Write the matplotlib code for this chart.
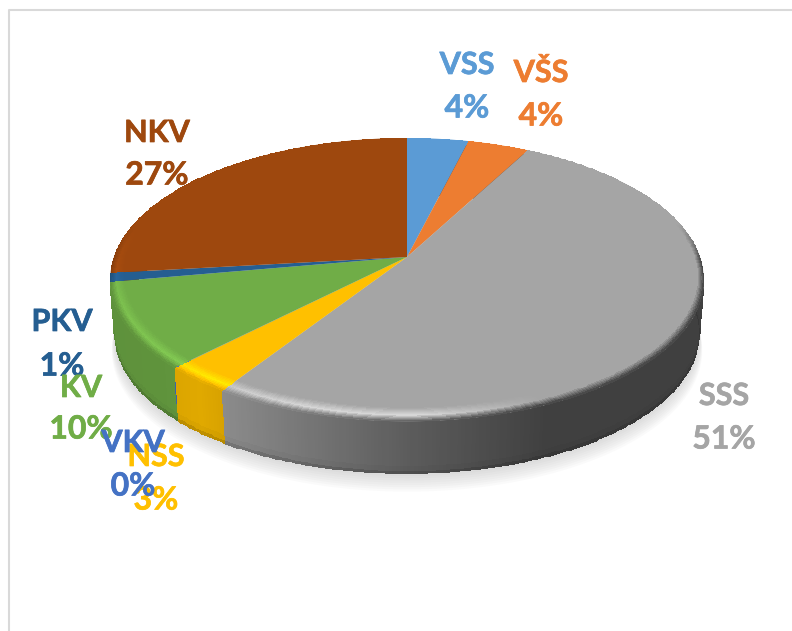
import numpy as np
import matplotlib
matplotlib.use('Agg')
import matplotlib.pyplot as plt
import matplotlib.patheffects as pe

# pie data, clockwise from 12 o'clock
categories = ['VSS', 'VŠS', 'SSS', 'NSS', 'VKV', 'KV', 'PKV', 'NKV']
values = [3.9, 3.9, 51.4, 3.2, 0.02, 9.8, 1.0, 26.8]
colors = ['#5b9bd5', '#ed7d31', '#a5a5a5', '#ffc000', '#4472c4', '#70ad47', '#255e91', '#9e480e']

# label centres in pixels (name line, percent line)
label_x = [467, 541, 724, 156, 133, 81, 62, 157]
label_name_y = [65, 73, 396, 457, 443, 388, 322, 133]
label_pct_y = [108, 116, 439, 500, 486, 429, 366, 175]
label_order = [7, 6, 5, 3, 4, 2, 1, 0]

# perspective of the tilted disc
cx, cy = 407, 257
a, b, k = 293.0, 138.0, 0.16
depth = 55.0


def project(theta, r, z=0.0):
    u = r * np.sin(theta)
    v = r * np.cos(theta)
    w = 1 + k * v
    shrink = 1 - 0.015 * z
    return cx + a * u / w * shrink, cy - b * v / w * shrink + depth * z


def side_shade(theta):
    return np.interp(np.sin(theta), [-1, -0.75, -0.62, -0.3, 0, 0.4, 1],
                     [0.84, 0.85, 0.88, 0.72, 0.56, 0.39, 0.39])


def bevel_gain(theta):
    f = np.interp(np.sin(theta), [-1, -0.75, -0.6, -0.3, 0.05, 0.4, 1],
                  [1.10, 1.16, 1.22, 1.30, 1.30, 1.0, 1.0])
    return 1 + (f - 1) * np.clip((0.2 - np.cos(theta)) / 0.5, 0, 1)


fig = plt.figure(figsize=(7.92, 6.31), dpi=100)
ax = fig.add_axes([0, 0, 1, 1])
ax.set_xlim(0, 792)
ax.set_ylim(631, 0)
ax.axis('off')

# chart frame
ax.plot([9, 9, 792], [631, 10, 10], color='#d9d9d9', lw=1.5, zorder=0)

# soft shadow under the disc
ring = np.linspace(0, 2 * np.pi, 361)
for dy in np.arange(16, 1, -2):
    sx, sy = project(ring, 1.0 + dy * 0.0006, 1.0)
    ax.fill(sx, sy + dy, color='#808080', alpha=0.035, lw=0, zorder=1)

frac = np.cumsum([0] + values) / np.sum(values)
edges = frac * 2 * np.pi

# rim first, back to front, the top face covers the back part of it
for i in [0, 1, 7, 6, 5, 4, 3, 2]:
    base = np.array(matplotlib.colors.to_rgb(colors[i]))
    n = max(int(values[i] * 6), 2)
    th = np.linspace(edges[i], edges[i + 1], n + 1)
    zs = np.array([0, 0.5, 0.85, 0.95, 1.0])
    T, Z = np.meshgrid(th, zs)
    X, Y = project(T, 1.0, Z)
    mid = (th[:-1] + th[1:]) / 2
    dark = np.array([1.0, 1.0, 0.97, 0.85])
    C = np.zeros((len(zs) - 1, n, 3))
    for j in range(len(zs) - 1):
        C[j] = np.clip(base[None, :] * (side_shade(mid) * dark[j])[:, None], 0, 1)
    ax.pcolormesh(X, Y, C, shading='flat', zorder=2)

# flat top face
for i in range(len(values)):
    th = np.linspace(edges[i], edges[i + 1], max(int(values[i] * 6), 2) + 1)
    px, py = project(th, 1.0)
    ax.fill(np.r_[cx, px], np.r_[cy, py], color=colors[i], lw=0, zorder=3)

# bevel band along the outer edge
ts = np.linspace(0, 1, 13)
for i in range(len(values)):
    base = np.array(matplotlib.colors.to_rgb(colors[i]))
    n = max(int(values[i] * 6), 2)
    th = np.linspace(edges[i], edges[i + 1], n + 1)
    T, S = np.meshgrid(th, ts)
    r0 = 1 - (0.04 + 0.03 * np.clip(-np.cos(T), 0, 1))
    X, Y = project(T, r0 + (1 - r0) * S)
    mid = (th[:-1] + th[1:]) / 2
    tm = (ts[:-1] + ts[1:]) / 2
    C = np.zeros((len(tm), n, 3))
    for j in range(n):
        outer = 1 + (side_shade(mid[j]) - 1) * np.clip((0.25 - np.cos(mid[j])) / 0.3, 0, 1)
        gain = np.interp(tm, [0, 0.55, 1], [1, bevel_gain(mid[j]), outer])
        C[:, j, :] = np.clip(base[None, :] * gain[:, None], 0, 1)
    ax.pcolormesh(X, Y, C, shading='flat', zorder=4)

# labels
for i in label_order:
    stroke = [pe.withStroke(linewidth=0.5, foreground=colors[i])]
    ax.text(label_x[i], label_name_y[i], categories[i], color=colors[i], family='Lato',
            fontweight='bold', fontsize=22, ha='center', va='center', zorder=6, path_effects=stroke)
    ax.text(label_x[i], label_pct_y[i], '%d%%' % round(values[i]), color=colors[i], family='Lato',
            fontweight='bold', fontsize=23, ha='center', va='center', zorder=6, path_effects=stroke)

fig.savefig('out.png', dpi=100, facecolor='white')
